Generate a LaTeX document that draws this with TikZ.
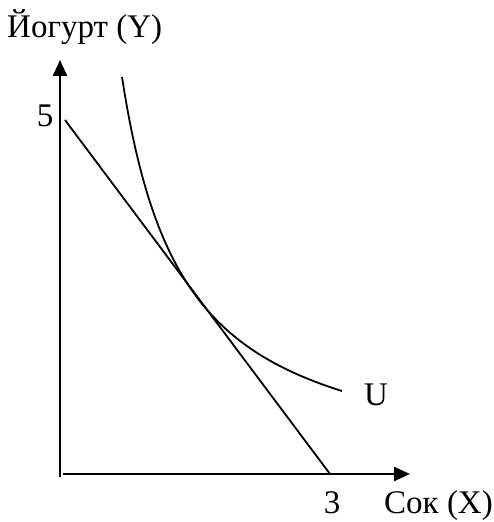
\documentclass[tikz,border=0pt]{standalone}
\usepackage{fontspec}
\setmainfont{Liberation Serif}
\usetikzlibrary{arrows.meta}
\begin{document}
\begin{tikzpicture}[x=1pt,y=1pt,
  axis/.style={line width=2.3pt,-{Triangle[length=16pt,width=14pt]}},
  curveline/.style={line width=1.8pt},
  lbl/.style={inner sep=0pt,anchor=base,font=\fontsize{33}{38}\selectfont}]
\useasboundingbox (0,0) rectangle (493,522);
\coordinate (O) at (60,45);
\coordinate (Ytop) at (60,462);
\coordinate (Xs) at (63,48);
\coordinate (Xend) at (410,48);
\draw[axis] (O) -- (Ytop);
\draw[axis] (Xs) -- (Xend);
\coordinate (B1) at (65,402);
\coordinate (B2) at (330,48);
\draw[curveline] (B1) -- (B2);
\draw[curveline] plot[domain=122:342,samples=150] (\x,{42.5+249.54/((\x-60)/100)});
\node[lbl,anchor=base west] (ylab) at (7,484) {Йогурт (Y)};
\node[lbl] (five) at (45,395) {5};
\node[lbl] (three) at (332,9) {3};
\node[lbl,anchor=base west] (xlab) at (384,9) {Сок (X)};
\node[lbl] (u) at (376,116) {U};
\end{tikzpicture}
\end{document}
